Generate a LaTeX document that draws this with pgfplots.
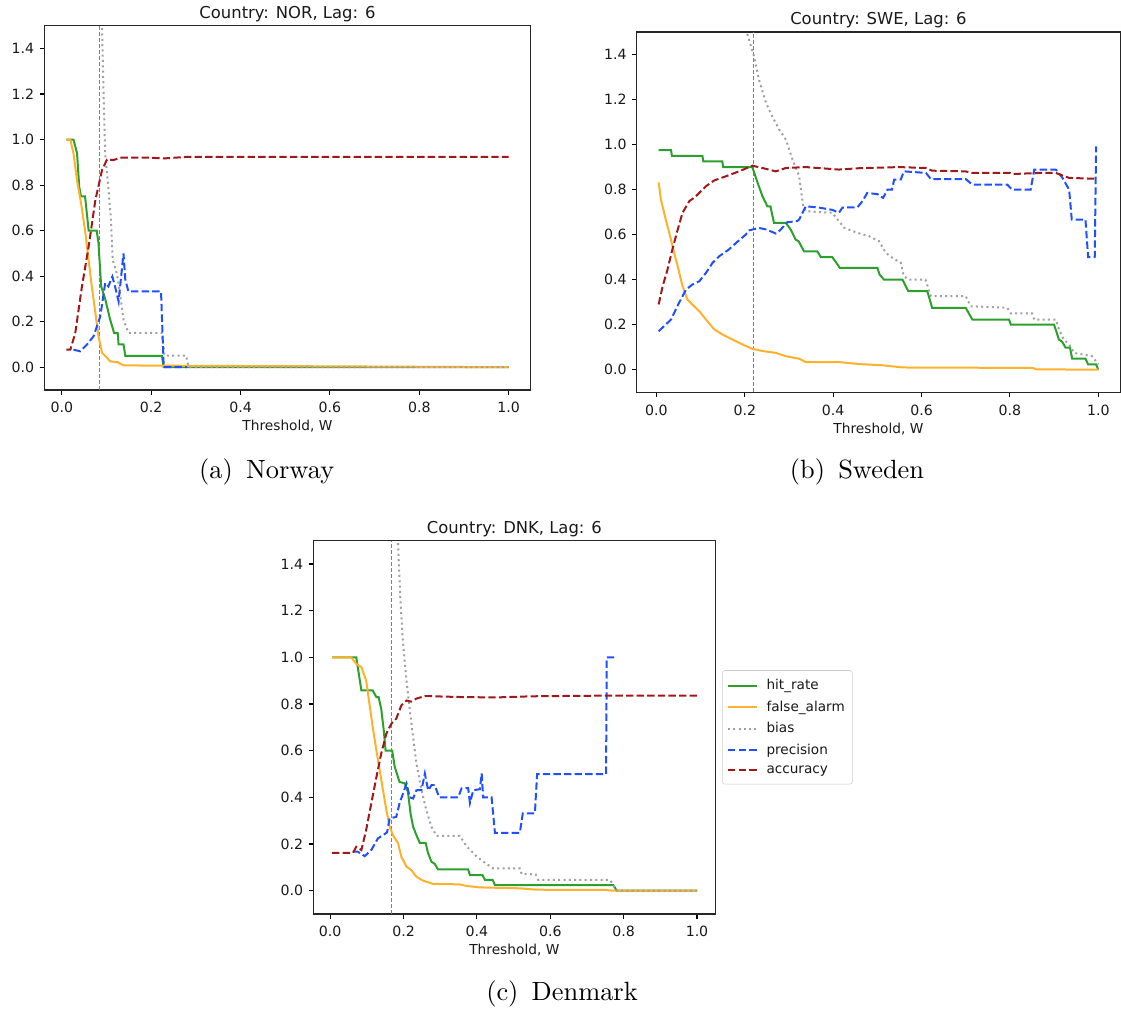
\documentclass[border=0pt]{standalone}
\usepackage{fontspec}
\usepackage{pgfplots}
\pgfplotsset{compat=1.18}
\newfontfamily\dejavu{DejaVu Sans}
\definecolor{cgreen}{HTML}{2CA02C}
\definecolor{corange}{HTML}{FFB12B}
\definecolor{cgray}{HTML}{A0A0A0}
\definecolor{cblue}{HTML}{1F4FFF}
\definecolor{cred}{HTML}{A01818}
\pgfplotsset{
  panel/.style={
    scale only axis,
    ymin=-0.1, ymax=1.5,
    xtick={0,0.2,0.4,0.6,0.8,1.0},
    ytick={0,0.2,0.4,0.6,0.8,1.0,1.2,1.4},
    xtick pos=left, ytick pos=left,
    tick align=outside,
    major tick length=3.5pt,
    every tick/.style={black, line width=0.8pt},
    axis line style={black!85, line width=0.8pt},
    tick label style={font=\dejavu\fontsize{10.6}{12}\selectfont, text=black!90},
    xticklabel style={yshift=-2.2pt},
    yticklabel style={xshift=-0.6pt},
    /pgf/number format/assume math mode=true,
    /pgf/number format/fixed, /pgf/number format/fixed zerofill, /pgf/number format/precision=1,
    xlabel={Threshold, W},
    every axis x label/.style={at={(axis description cs:0.5,0)}, anchor=base, yshift=-30.7pt},
    label style={font=\dejavu\fontsize{10.3}{12}\selectfont, text=black!90},
    every axis title/.style={at={(axis description cs:0.5,1)}, anchor=base, yshift=5.6pt,
      font=\dejavu\fontsize{12.3}{14}\selectfont, text=black!90},
    legend image code/.code={\draw[##1] (0pt,0pt) -- (22pt,0pt); \path (26pt,0pt);},
  },
  hr/.style={cgreen, line width=1.5pt},
  fa/.style={corange, line width=1.5pt},
  bi/.style={cgray, line width=1.5pt, dash pattern=on 1.5pt off 2.475pt},
  pr/.style={cblue, line width=1.5pt, dash pattern=on 5.55pt off 2.4pt},
  ac/.style={cred, line width=1.5pt, dash pattern=on 5.55pt off 2.4pt},
  vl/.style={gray, line width=0.6pt, dash pattern=on 3pt off 1.5pt},
}
\begin{document}
\begin{tikzpicture}
\path[use as bounding box] (0,0) rectangle (840.75pt,759pt);

% ---------------- NOR ----------------
\begin{axis}[panel, at={(33.15pt,466.5pt)}, anchor=south west,
  width=364.9pt, height=273.2pt, xmin=-0.0395, xmax=1.0495,
  title={Country: NOR, Lag: 6}]
\addplot[vl, forget plot] coordinates {(0.083,-0.1) (0.083,1.5)};
\addplot[hr] coordinates {(0.01,1.0)(0.026,1.0)(0.034,0.94)(0.039,0.79)(0.043,0.75)(0.052,0.75)(0.060,0.60)(0.078,0.60)(0.082,0.545)(0.088,0.355)(0.097,0.30)(0.108,0.21)(0.117,0.15)(0.125,0.15)(0.127,0.10)(0.138,0.10)(0.142,0.05)(0.224,0.05)(0.228,0.0)(1.0,0.0)};
\addplot[fa] coordinates {(0.01,1.0)(0.019,1.0)(0.026,0.94)(0.034,0.82)(0.043,0.72)(0.052,0.60)(0.060,0.47)(0.067,0.355)(0.075,0.24)(0.082,0.136)(0.090,0.063)(0.099,0.046)(0.108,0.026)(0.125,0.022)(0.138,0.008)(0.3,0.006)(0.6,0.004)(1.0,0.0)};
\addplot[bi] coordinates {(0.01,5)(0.085,2.5)(0.090,1.486)(0.093,1.23)(0.097,0.939)(0.104,0.79)(0.110,0.647)(0.114,0.47)(0.123,0.413)(0.131,0.311)(0.138,0.209)(0.149,0.151)(0.224,0.151)(0.23,0.051)(0.278,0.051)(0.284,0.0)(1.0,0.0)};
\addplot[pr] coordinates {(0.026,0.077)(0.041,0.07)(0.056,0.099)(0.071,0.136)(0.086,0.223)(0.097,0.37)(0.104,0.355)(0.113,0.398)(0.119,0.355)(0.127,0.289)(0.138,0.50)(0.142,0.384)(0.149,0.333)(0.222,0.333)(0.228,0.0)(0.28,0.0)};
\addplot[ac] coordinates {(0.01,0.077)(0.019,0.077)(0.030,0.15)(0.045,0.355)(0.060,0.53)(0.075,0.734)(0.090,0.866)(0.101,0.912)(0.115,0.91)(0.134,0.921)(0.2,0.92)(0.228,0.917)(0.28,0.924)(1.0,0.924)};
\end{axis}

% ---------------- SWE ----------------
\begin{axis}[panel, at={(477.5pt,464.8pt)}, anchor=south west,
  width=362.7pt, height=270.2pt, xmin=-0.0448, xmax=1.0498,
  title={Country: SWE, Lag: 6}]
\addplot[vl, forget plot] coordinates {(0.2195,-0.1) (0.2195,1.5)};
\addplot[hr] coordinates {(0.005,0.975)(0.033,0.975)(0.035,0.95)(0.104,0.95)(0.106,0.925)(0.149,0.925)(0.151,0.90)(0.217,0.90)(0.229,0.83)(0.240,0.77)(0.251,0.726)(0.258,0.726)(0.266,0.652)(0.293,0.652)(0.304,0.622)(0.315,0.578)(0.322,0.57)(0.334,0.526)(0.364,0.526)(0.372,0.50)(0.398,0.50)(0.41,0.467)(0.415,0.452)(0.50,0.452)(0.505,0.423)(0.515,0.40)(0.557,0.40)(0.570,0.349)(0.613,0.349)(0.624,0.275)(0.70,0.275)(0.715,0.223)(0.798,0.223)(0.802,0.20)(0.90,0.20)(0.911,0.134)(0.918,0.125)(0.926,0.098)(0.936,0.098)(0.941,0.049)(0.971,0.049)(0.977,0.024)(0.995,0.024)(1.0,0.0)};
\addplot[fa] coordinates {(0.005,0.832)(0.010,0.756)(0.021,0.667)(0.029,0.608)(0.040,0.519)(0.048,0.46)(0.059,0.371)(0.070,0.312)(0.081,0.29)(0.097,0.26)(0.112,0.223)(0.131,0.179)(0.149,0.157)(0.172,0.134)(0.195,0.112)(0.217,0.093)(0.240,0.083)(0.270,0.075)(0.293,0.06)(0.323,0.049)(0.338,0.034)(0.413,0.034)(0.459,0.025)(0.511,0.02)(0.557,0.01)(0.851,0.008)(0.86,0.002)(1.0,0.0)};
\addplot[bi] coordinates {(0.005,5)(0.19,1.75)(0.206,1.488)(0.221,1.39)(0.232,1.288)(0.248,1.185)(0.262,1.125)(0.278,1.066)(0.293,1.022)(0.308,0.933)(0.323,0.859)(0.332,0.726)(0.338,0.704)(0.398,0.697)(0.425,0.63)(0.455,0.608)(0.481,0.593)(0.504,0.571)(0.519,0.519)(0.534,0.497)(0.553,0.475)(0.560,0.415)(0.572,0.40)(0.609,0.40)(0.621,0.327)(0.70,0.327)(0.711,0.282)(0.794,0.275)(0.802,0.25)(0.85,0.25)(0.855,0.223)(0.904,0.223)(0.911,0.179)(0.922,0.134)(0.934,0.112)(0.945,0.075)(0.986,0.06)(1.0,0.024)};
\addplot[pr] coordinates {(0.005,0.171)(0.033,0.223)(0.051,0.297)(0.067,0.356)(0.081,0.378)(0.097,0.393)(0.112,0.43)(0.127,0.475)(0.142,0.504)(0.164,0.534)(0.180,0.563)(0.202,0.60)(0.210,0.619)(0.232,0.63)(0.25,0.622)(0.270,0.605)(0.28,0.62)(0.296,0.655)(0.318,0.66)(0.323,0.667)(0.338,0.726)(0.368,0.72)(0.398,0.71)(0.413,0.697)(0.421,0.72)(0.455,0.722)(0.466,0.748)(0.477,0.785)(0.50,0.78)(0.513,0.763)(0.523,0.80)(0.533,0.80)(0.538,0.844)(0.553,0.845)(0.560,0.881)(0.61,0.874)(0.621,0.847)(0.70,0.847)(0.715,0.822)(0.794,0.822)(0.805,0.80)(0.847,0.80)(0.855,0.889)(0.904,0.889)(0.919,0.852)(0.934,0.80)(0.94,0.667)(0.971,0.667)(0.977,0.50)(0.992,0.50)(0.995,0.992)};
\addplot[ac] coordinates {(0.005,0.29)(0.014,0.371)(0.025,0.445)(0.036,0.534)(0.048,0.622)(0.059,0.697)(0.074,0.748)(0.089,0.77)(0.112,0.815)(0.131,0.841)(0.157,0.859)(0.187,0.881)(0.217,0.906)(0.24,0.896)(0.270,0.881)(0.293,0.896)(0.338,0.90)(0.413,0.889)(0.459,0.895)(0.549,0.90)(0.609,0.896)(0.624,0.884)(0.70,0.881)(0.715,0.874)(0.80,0.874)(0.805,0.869)(0.866,0.874)(0.904,0.874)(0.934,0.852)(0.995,0.848)};
\end{axis}

% ---------------- DNK ----------------
\begin{axis}[panel, at={(235pt,73.5pt)}, anchor=south west,
  width=301.5pt, height=280pt, xmin=-0.046, xmax=1.05,
  title={Country: DNK, Lag: 6},
  legend style={at={(1,0.5)}, anchor=west, xshift=5pt, draw=black!20, rounded corners=2pt, fill=white,
    font=\dejavu\fontsize{10.2}{12}\selectfont, text=black!90, inner xsep=3.5pt, inner ysep=4.5pt,
    row sep=2.5pt, nodes={inner sep=2.2pt}},
  legend cell align=left]
\addplot[vl, forget plot] coordinates {(0.168,-0.1) (0.168,1.5)};
\addplot[hr] coordinates {(0.005,1.0)(0.071,1.0)(0.078,0.929)(0.085,0.858)(0.116,0.858)(0.126,0.829)(0.132,0.829)(0.139,0.78)(0.146,0.687)(0.151,0.60)(0.169,0.60)(0.176,0.53)(0.189,0.466)(0.203,0.46)(0.212,0.423)(0.219,0.331)(0.226,0.274)(0.235,0.238)(0.244,0.205)(0.26,0.205)(0.267,0.16)(0.276,0.124)(0.285,0.115)(0.294,0.091)(0.376,0.091)(0.381,0.067)(0.415,0.067)(0.422,0.046)(0.443,0.046)(0.449,0.024)(0.772,0.024)(0.781,0.0)(1.0,0.0)};
\addlegendentry{hit\_rate}
\addplot[fa] coordinates {(0.005,1.0)(0.057,1.0)(0.071,0.972)(0.085,0.958)(0.098,0.90)(0.107,0.80)(0.116,0.70)(0.126,0.60)(0.135,0.516)(0.144,0.43)(0.153,0.346)(0.162,0.274)(0.171,0.238)(0.185,0.203)(0.194,0.145)(0.208,0.103)(0.221,0.088)(0.235,0.06)(0.253,0.043)(0.280,0.029)(0.353,0.027)(0.372,0.02)(0.408,0.014)(0.517,0.01)(0.563,0.004)(0.75,0.003)(0.77,0.0)(1.0,0.0)};
\addlegendentry{false\_alarm}
\addplot[bi] coordinates {(0.005,6)(0.17,2.2)(0.185,1.485)(0.191,1.257)(0.198,1.072)(0.208,0.90)(0.217,0.773)(0.226,0.658)(0.235,0.545)(0.249,0.43)(0.262,0.345)(0.276,0.274)(0.29,0.235)(0.353,0.235)(0.372,0.19)(0.40,0.145)(0.426,0.115)(0.444,0.096)(0.517,0.096)(0.522,0.071)(0.56,0.07)(0.567,0.046)(0.763,0.046)(0.781,0.0)(1.0,0.0)};
\addlegendentry{bias}
\addplot[pr] coordinates {(0.062,0.167)(0.075,0.167)(0.094,0.148)(0.112,0.174)(0.130,0.224)(0.148,0.242)(0.155,0.25)(0.162,0.31)(0.18,0.316)(0.189,0.374)(0.208,0.459)(0.217,0.40)(0.226,0.395)(0.235,0.43)(0.249,0.432)(0.258,0.502)(0.267,0.43)(0.276,0.452)(0.285,0.452)(0.297,0.40)(0.349,0.40)(0.358,0.438)(0.376,0.44)(0.381,0.376)(0.39,0.43)(0.408,0.435)(0.413,0.502)(0.417,0.40)(0.44,0.40)(0.449,0.248)(0.517,0.248)(0.525,0.331)(0.558,0.331)(0.564,0.499)(0.752,0.499)(0.754,1.0)(0.777,1.0)};
\addlegendentry{precision}
\addplot[ac] coordinates {(0.005,0.162)(0.062,0.162)(0.071,0.188)(0.085,0.174)(0.098,0.26)(0.112,0.374)(0.126,0.487)(0.139,0.587)(0.153,0.673)(0.167,0.716)(0.180,0.737)(0.194,0.794)(0.208,0.815)(0.221,0.81)(0.235,0.823)(0.258,0.834)(0.35,0.83)(0.45,0.828)(0.55,0.833)(0.76,0.836)(1.0,0.836)};
\addlegendentry{accuracy}
\end{axis}

% ---------------- captions ----------------
\node[scale=1.98, anchor=base] at (200pt,400.3pt) {\fontsize{10}{12}\selectfont (a)\enspace Norway};
\node[scale=1.98, anchor=base] at (642.75pt,400.3pt) {\fontsize{10}{12}\selectfont (b)\enspace Sweden};
\node[scale=1.98, anchor=base] at (421.5pt,8.25pt) {\fontsize{10}{12}\selectfont (c)\enspace Denmark};
\end{tikzpicture}
\end{document}
